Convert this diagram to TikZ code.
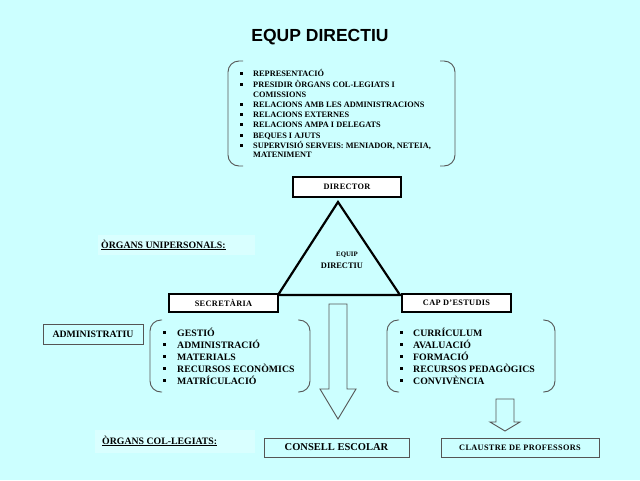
\documentclass[tikz,border=0pt]{standalone}
\usepackage{fontspec}
\setmainfont{Liberation Serif}
\newfontfamily\titlefont{Liberation Sans}
\definecolor{bgc}{HTML}{CCFFFF}
\definecolor{softc}{HTML}{D9FFFF}
\definecolor{edgec}{HTML}{555555}
\begin{document}
\begin{tikzpicture}[x=1pt,y=-1pt,
  thickbox/.style={draw=black,line width=1.8pt,fill=white,inner sep=0pt,
    font=\bfseries\fontsize{8.3}{10}\selectfont\addfontfeature{LetterSpace=4}},
  thinbox/.style={draw=edgec,line width=0.9pt,fill=bgc,inner sep=0pt},
  softbox/.style={fill=softc,draw=none,inner sep=0pt},
  topitem/.style={anchor=base west,inner sep=0pt,font=\bfseries\fontsize{8.3}{10}\selectfont},
  lowitem/.style={anchor=base west,inner sep=0pt,font=\bfseries\fontsize{9.8}{12}\selectfont},
  bul/.style={fill=black,inner sep=0pt,minimum size=3pt},
  brk/.style={draw=edgec,line width=0.9pt,rounded corners=11pt},
  blockarrow/.style={draw=edgec,line width=0.9pt,fill=bgc},
  heading/.style={anchor=west,inner sep=0pt,font=\bfseries\fontsize{9.8}{12}\selectfont}
]
\fill[bgc] (0,0) rectangle (640,480);
\useasboundingbox (0,0) rectangle (640,480);

% title
\node[inner sep=0pt,font=\titlefont\bfseries\fontsize{17.5}{20}\selectfont] (title) at (320,37) {EQUP DIRECTIU};

% top list brackets
\draw[brk] (243,61) -- (228,61) -- (228,166) -- (243,166);
\draw[brk] (440,61) -- (455,61) -- (455,166) -- (440,166);
\foreach \yy/\txt/\b in {
  76/REPRESENTACIÓ/1,
  87/PRESIDIR ÒRGANS COL-LEGIATS I/1,
  97/COMISSIONS/0,
  107/RELACIONS AMB LES ADMINISTRACIONS/1,
  117/RELACIONS EXTERNES/1,
  127/RELACIONS AMPA I DELEGATS/1,
  138/BEQUES I AJUTS/1,
  148/SUPERVISIÓ SERVEIS: MENIADOR{,} NETEIA{,}/1,
  157/MATENIMENT/0}{
  \node[topitem] (t\yy) at (253,\yy) {\txt};
  \ifnum\b=1 \node[bul] (tb\yy) at (241.5,\yy-2.8) {};\fi
}

% director box
\node[thickbox,minimum width=108pt,minimum height=20pt] (dir) at (347,187) {DIRECTOR};

% triangle
\coordinate (apex) at (338,202);
\coordinate (bl) at (278,295);
\coordinate (br) at (400,295);
\draw[line width=2.2pt,fill=bgc,line join=miter] (apex) -- (bl) -- (br) -- cycle;
\node[inner sep=0pt,font=\bfseries\fontsize{6.8}{8}\selectfont] (eq) at (347,255) {EQUIP};
\node[inner sep=0pt,font=\bfseries\fontsize{8.4}{10}\selectfont] (ed) at (342,266) {DIRECTIU};

% organs unipersonals
\node[softbox,minimum width=157pt,minimum height=20pt] (ousoft) at (176.5,245) {};
\node[heading] (ou) at (101,245) {\underline{ÒRGANS UNIPERSONALS:}};

% secretaria and cap d'estudis
\node[thickbox,minimum width=109pt,minimum height=18pt] (sec) at (223.5,303) {SECRETÀRIA};
\node[thickbox,minimum width=109pt,minimum height=18pt] (cap) at (456.5,303) {CAP D'ESTUDIS};

% big arrow
\draw[blockarrow] (329,304) -- (347,304) -- (347,389) -- (356,389) -- (338,419) -- (320,389) -- (329,389) -- cycle;

% administratiu
\node[thinbox,minimum width=100pt,minimum height=20pt,font=\bfseries\fontsize{9.8}{12}\selectfont] (adm) at (93,334) {ADMINISTRATIU};

% left list
\draw[brk] (162,320) -- (150,320) -- (150,392) -- (162,392);
\draw[brk] (298,320) -- (310,320) -- (310,392) -- (298,392);
\foreach \yy/\txt in {336/GESTIÓ,348/ADMINISTRACIÓ,360/MATERIALS,372/RECURSOS ECONÒMICS,384/MATRÍCULACIÓ}{
  \node[lowitem] (l\yy) at (177,\yy) {\txt};
  \node[bul] (lb\yy) at (164,\yy-3.3) {};
}

% right list
\draw[brk] (399,320) -- (387,320) -- (387,392) -- (399,392);
\draw[brk] (543,320) -- (555,320) -- (555,392) -- (543,392);
\foreach \yy/\txt in {336/CURRÍCULUM,348/AVALUACIÓ,360/FORMACIÓ,372/RECURSOS PEDAGÒGICS,384/CONVIVÈNCIA}{
  \node[lowitem] (r\yy) at (413,\yy) {\txt};
  \node[bul] (rb\yy) at (401,\yy-3.3) {};
}

% small arrow
\draw[blockarrow] (496,399) -- (514,399) -- (514,422) -- (520,422) -- (505,431) -- (490,422) -- (496,422) -- cycle;

% organs col-legiats
\node[softbox,minimum width=160pt,minimum height=23pt] (ocsoft) at (175,441.5) {};
\node[heading] (oc) at (102,441) {\underline{ÒRGANS COL-LEGIATS:}};

% bottom boxes
\node[thinbox,minimum width=145pt,minimum height=19pt,font=\bfseries\fontsize{10.5}{12}\selectfont] (ce) at (336.5,447.5) {CONSELL ESCOLAR};
\node[thinbox,minimum width=158pt,minimum height=19pt,font=\bfseries\fontsize{8.3}{10}\selectfont\addfontfeature{LetterSpace=4}] (cp) at (520,447.5) {CLAUSTRE DE PROFESSORS};
\end{tikzpicture}
\end{document}
